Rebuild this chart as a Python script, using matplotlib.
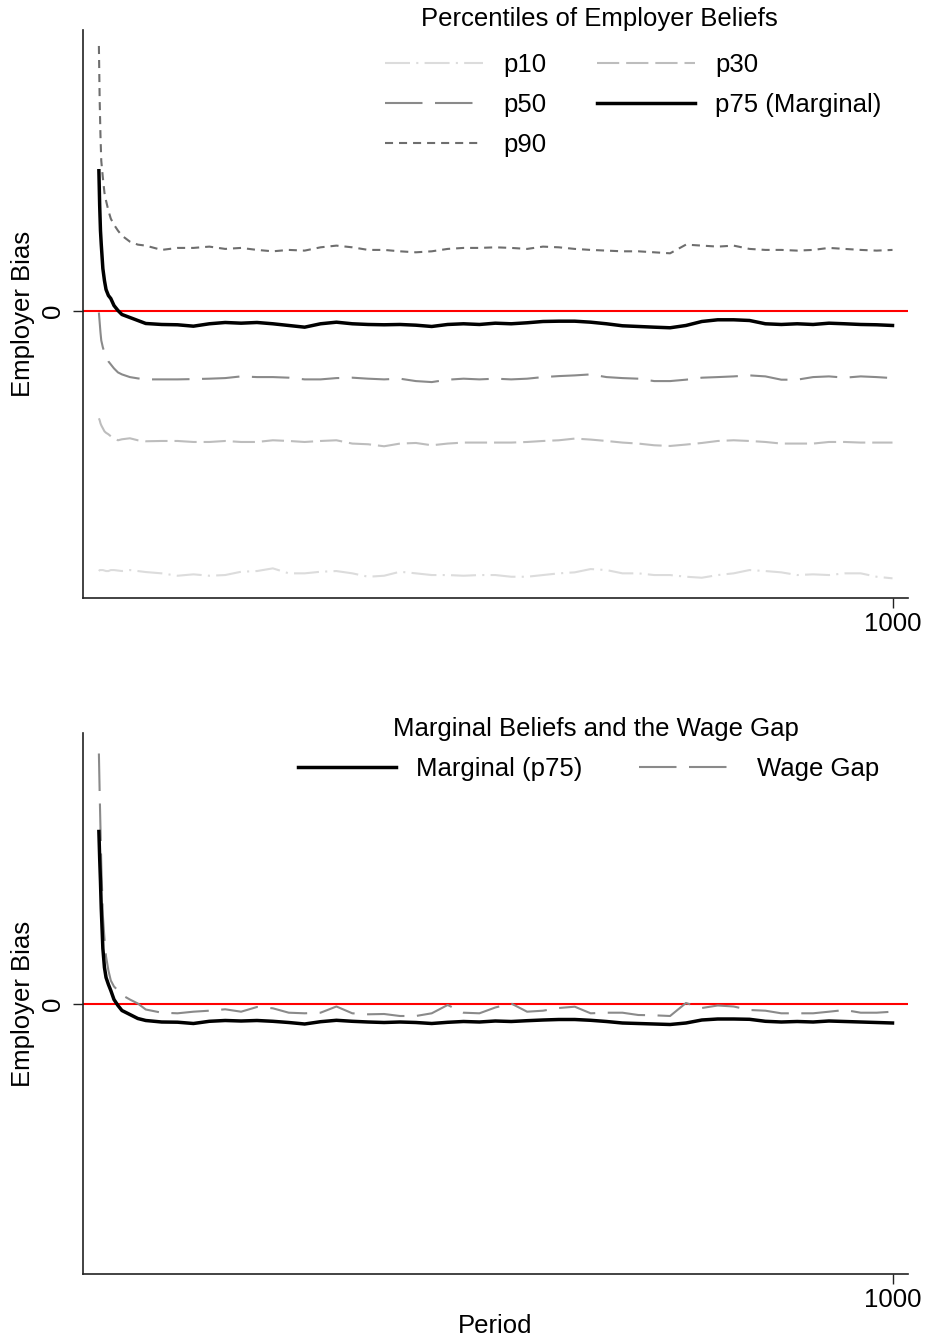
import matplotlib
matplotlib.use("Agg")
import matplotlib.pyplot as plt

plt.rcParams["font.family"] = ["Liberation Sans", "DejaVu Sans"]
plt.rcParams["lines.scale_dashes"] = False

W, H = 927, 1341
FS = 18.5

period = [1, 2, 3, 4, 6, 8, 10, 13, 16, 20, 25, 30, 40, 50, 60] + list(range(80, 1001, 20))

# --- top panel: percentiles of employer beliefs ---
p90 = [2.65, 2.10, 1.75, 1.50, 1.33, 1.18, 1.10, 1.00, 0.92, 0.86, 0.80, 0.75, 0.69, 0.66, 0.65,
       0.607, 0.627, 0.627, 0.640, 0.617, 0.627, 0.607, 0.593, 0.607, 0.600, 0.633, 0.650, 0.633,
       0.607, 0.607, 0.593, 0.583, 0.593, 0.617, 0.627, 0.627,
       0.633, 0.627, 0.617, 0.640, 0.633, 0.617, 0.607, 0.600, 0.593, 0.593, 0.583, 0.573, 0.660,
       0.650, 0.640, 0.650, 0.617, 0.607, 0.607, 0.600, 0.607, 0.627, 0.617, 0.607, 0.600, 0.607]
p75 = [1.40, 1.05, 0.80, 0.66, 0.42, 0.30, 0.21, 0.15, 0.12, 0.05, 0.00, -0.04, -0.07, -0.10, -0.13,
       -0.140, -0.143, -0.157, -0.133, -0.120, -0.127, -0.120, -0.133, -0.150, -0.167, -0.133,
       -0.117, -0.133, -0.140, -0.143, -0.140, -0.147, -0.160, -0.140, -0.133, -0.140,
       -0.127, -0.133, -0.123, -0.110, -0.107, -0.107, -0.117, -0.133, -0.153, -0.160, -0.167,
       -0.173, -0.150, -0.110, -0.093, -0.093, -0.100, -0.133, -0.140, -0.133, -0.140, -0.127,
       -0.133, -0.140, -0.143, -0.150]
p50 = [-0.02, -0.12, -0.22, -0.30, -0.37, -0.42, -0.46, -0.51, -0.54, -0.58, -0.62, -0.64, -0.667, -0.68, -0.69,
       -0.690, -0.690, -0.687, -0.683, -0.677, -0.660, -0.667, -0.667, -0.673, -0.690, -0.690,
       -0.677, -0.673, -0.683, -0.690, -0.683, -0.707, -0.717, -0.693, -0.683, -0.690,
       -0.683, -0.690, -0.683, -0.667, -0.657, -0.650, -0.640, -0.667, -0.677, -0.683, -0.707,
       -0.707, -0.693, -0.673, -0.667, -0.660, -0.650, -0.660, -0.693, -0.693, -0.667, -0.660,
       -0.673, -0.660, -0.667, -0.677]
p30 = [-1.08, -1.10, -1.13, -1.15, -1.18, -1.21, -1.225, -1.24, -1.26, -1.28, -1.30, -1.29, -1.28, -1.30, -1.31,
       -1.307, -1.307, -1.317, -1.317, -1.307, -1.317, -1.317, -1.300, -1.307, -1.317, -1.307,
       -1.300, -1.333, -1.340, -1.360, -1.333, -1.327, -1.350, -1.333, -1.323, -1.323,
       -1.323, -1.323, -1.317, -1.307, -1.300, -1.283, -1.293, -1.307, -1.323, -1.333, -1.350,
       -1.357, -1.343, -1.327, -1.307, -1.300, -1.307, -1.317, -1.333, -1.333, -1.333, -1.317,
       -1.317, -1.323, -1.323, -1.323]
p10 = [-2.61, -2.60, -2.60, -2.60, -2.60, -2.605, -2.61, -2.61, -2.60, -2.60, -2.605, -2.61, -2.60, -2.61, -2.62,
       -2.633, -2.657, -2.643, -2.657, -2.650, -2.617, -2.610, -2.583, -2.633, -2.633, -2.617,
       -2.610, -2.633, -2.667, -2.657, -2.617, -2.633, -2.650, -2.650, -2.657, -2.650,
       -2.650, -2.667, -2.667, -2.650, -2.633, -2.623, -2.590, -2.600, -2.633, -2.633, -2.650,
       -2.650, -2.667, -2.677, -2.650, -2.633, -2.600, -2.610, -2.623, -2.650, -2.643, -2.650,
       -2.633, -2.633, -2.667, -2.683]

# --- bottom panel: marginal beliefs and the wage gap ---
marginal = [1.72, 1.45, 1.22, 0.95, 0.55, 0.36, 0.26, 0.19, 0.13, 0.04, -0.02, -0.07, -0.11, -0.15, -0.17,
            -0.185, -0.187, -0.200, -0.178, -0.170, -0.175, -0.170, -0.178, -0.190, -0.205, -0.182,
            -0.168, -0.178, -0.185, -0.190, -0.185, -0.190, -0.200, -0.188, -0.180, -0.185,
            -0.175, -0.180, -0.172, -0.165, -0.160, -0.160, -0.168, -0.180, -0.195, -0.200, -0.205,
            -0.210, -0.195, -0.165, -0.155, -0.155, -0.158, -0.178, -0.185, -0.180, -0.185, -0.175,
            -0.180, -0.185, -0.190, -0.195]
wage_gap = [2.50, 2.10, 1.75, 1.40, 0.88, 0.65, 0.47, 0.33, 0.23, 0.17, 0.13, 0.085, 0.04, 0.00, -0.06,
            -0.092, -0.098, -0.082, -0.072, -0.058, -0.082, -0.035, -0.048, -0.092, -0.098, -0.092,
            -0.030, -0.098, -0.108, -0.105, -0.125, -0.125, -0.098, -0.015, -0.092, -0.098,
            -0.040, 0.000, -0.082, -0.072, -0.045, -0.032, -0.098, -0.092, -0.092, -0.115, -0.118,
            -0.125, 0.005, -0.045, -0.020, -0.030, -0.065, -0.072, -0.098, -0.098, -0.098, -0.082,
            -0.065, -0.092, -0.092, -0.082]

GRAY_LW = 1.5
STYLES = {
    "p10": dict(color="#dcdcdc", lw=GRAY_LW, ls=(0, (18, 4.5, 1.5, 4.5))),
    "p30": dict(color="#bdbdbd", lw=GRAY_LW, ls=(0, (16, 5))),
    "p50": dict(color="#8a8a8a", lw=GRAY_LW, ls=(0, (27, 9))),
    "p75": dict(color="black", lw=2.5, ls="-"),
    "p90": dict(color="#6e6e6e", lw=GRAY_LW, ls=(0, (5.8, 4.3))),
}


def fx(x):
    return x / W


def fy(y):
    return 1 - y / H


def style_axes(ax, ylim):
    ax.set_xlim(-19, 1019.5)
    ax.set_ylim(*ylim)
    ax.axhline(0, color="red", lw=1.5, zorder=1)
    for s in ("top", "right"):
        ax.spines[s].set_visible(False)
    for s in ("left", "bottom"):
        ax.spines[s].set_color("#222222")
        ax.spines[s].set_linewidth(1.2)
    ax.set_xticks([1000])
    ax.set_yticks([0])
    ax.set_yticklabels(["0"], rotation=90, va="center")
    ax.tick_params(direction="out", length=7.2, width=1, labelsize=FS, colors="#222222",
                   labelcolor="black")
    ax.tick_params(axis="y", pad=6)
    ax.tick_params(axis="x", pad=3)
    ax.set_ylabel("Employer Bias", fontsize=FS, labelpad=4)


fig = plt.figure(figsize=(W / 100, H / 100), dpi=100)

# top panel
ax1 = fig.add_axes([fx(83), fy(598), fx(825), 568 / H])
style_axes(ax1, (-2.88, 2.81))
lines = {}
for name, vals in [("p10", p10), ("p30", p30), ("p50", p50), ("p90", p90), ("p75", p75)]:
    label = "p75 (Marginal)" if name == "p75" else name
    lines[name], = ax1.plot(period, vals, label=label, zorder=3, **STYLES[name])

# legend fills column by column, the reference reads row by row
order = ["p10", "p50", "p90", "p30", "p75"]
fig.legend([lines[k] for k in order], [lines[k].get_label() for k in order],
           loc="upper left", bbox_to_anchor=(fx(385), fy(53)), ncol=2, frameon=False,
           fontsize=FS, borderpad=0, borderaxespad=0, handlelength=3.81,
           handletextpad=0.78, columnspacing=2.0, labelspacing=0.63)
fig.text(fx(599), fy(19), "Percentiles of Employer Beliefs", ha="center", va="center", fontsize=FS)

# bottom panel
ax2 = fig.add_axes([fx(83), fy(1274), fx(825), 541 / H])
style_axes(ax2, (-2.705, 2.705))
l_m, = ax2.plot(period, marginal, color="black", lw=2.5, zorder=4, label="Marginal (p75)")
l_w, = ax2.plot(period, wage_gap, color="#8a8a8a", lw=GRAY_LW, ls=(0, (27, 9)), zorder=3,
                label="Wage Gap")
ax2.set_xlabel("Period", fontsize=FS, labelpad=1)

fig.legend([l_m, l_w], ["Marginal (p75)", "Wage Gap"], loc="upper left",
           bbox_to_anchor=(fx(298), fy(757)), ncol=2, frameon=False, fontsize=FS,
           borderpad=0, borderaxespad=0, handlelength=3.81, handletextpad=0.78,
           columnspacing=2.2)
fig.text(fx(596), fy(729), "Marginal Beliefs and the Wage Gap", ha="center", va="center", fontsize=FS)

fig.savefig("out.png", dpi=100)
